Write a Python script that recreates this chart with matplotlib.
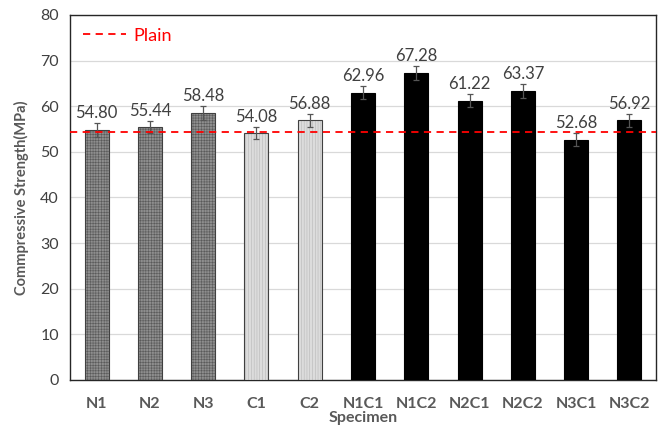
import matplotlib
matplotlib.use("Agg")
import matplotlib.pyplot as plt

categories = ["N1", "N2", "N3", "C1", "C2", "N1C1", "N1C2", "N2C1", "N2C2", "N3C1", "N3C2"]
values = [54.80, 55.44, 58.48, 54.08, 56.88, 62.96, 67.28, 61.22, 63.37, 52.68, 56.92]
errors = [1.5, 1.4, 1.5, 1.3, 1.4, 1.5, 1.5, 1.4, 1.5, 1.5, 1.4]
plain_value = 54.4
groups = ["N", "N", "N", "C", "C", "NC", "NC", "NC", "NC", "NC", "NC"]

plt.rcParams['font.family'] = ['Lato', 'DejaVu Sans']

fig = plt.figure(figsize=(6.64, 4.25), dpi=100)
ax = fig.add_axes([0.1054, 0.106, 0.8826, 0.859])

face = {"N": "#8e8e8e", "C": "#dcdcdc", "NC": "#000000"}
hatch = {"N": "++++++", "C": "||||||", "NC": None}
hcol = {"N": "#5a5a5a", "C": "#b8b8b8", "NC": "#000000"}

plt.rcParams['hatch.linewidth'] = 0.4
x = list(range(len(categories)))
for i, (v, g) in enumerate(zip(values, groups)):
    b = ax.bar(i, v, width=0.45, facecolor=face[g], edgecolor="#404040" if g != "NC" else "#000000",
               linewidth=0.8, hatch=hatch[g], zorder=3)
    if hatch[g]:
        b[0]._hatch_color = matplotlib.colors.to_rgba(hcol[g])

ax.errorbar(x, values, yerr=errors, fmt="none", ecolor="#555555", elinewidth=0.9,
            capsize=2.5, capthick=0.9, zorder=4)

for i, v in enumerate(values):
    ax.text(i, v + errors[i] + 0.4, f"{v:.2f}", ha="center", va="bottom",
            fontsize=12, color="#404040", zorder=5)

ax.axhline(plain_value, color="#ff0000", linestyle=(0, (4, 3)), linewidth=1.3, zorder=6, label="Plain")
leg = ax.legend(loc="upper left", frameon=False, fontsize=13, handlelength=2.4,
                borderaxespad=0.3, handletextpad=0.4)
for t in leg.get_texts():
    t.set_color("#ff0000")

ax.set_ylim(0, 80)
ax.set_xlim(-0.5, len(categories) - 0.5)
ax.set_yticks(range(0, 81, 10))
ax.set_xticks(x)
ax.set_xticklabels(categories, fontweight="bold", color="#595959", fontsize=11.5)
ax.tick_params(axis="y", labelsize=11.5, colors="#404040", length=0, pad=8)
ax.tick_params(axis="x", length=0, pad=12)
ax.yaxis.grid(True, color="#d9d9d9", linewidth=0.9, zorder=0)
ax.set_axisbelow(True)
for s in ax.spines.values():
    s.set_color("#262626")
    s.set_linewidth(1.0)

ax.set_ylabel("Commpressive Strength(MPa)", fontweight="bold", color="#595959", fontsize=10.5, labelpad=8)
ax.set_xlabel("Specimen", fontweight="bold", color="#595959", fontsize=11.5, labelpad=0)

fig.savefig("out.png", dpi=100)
